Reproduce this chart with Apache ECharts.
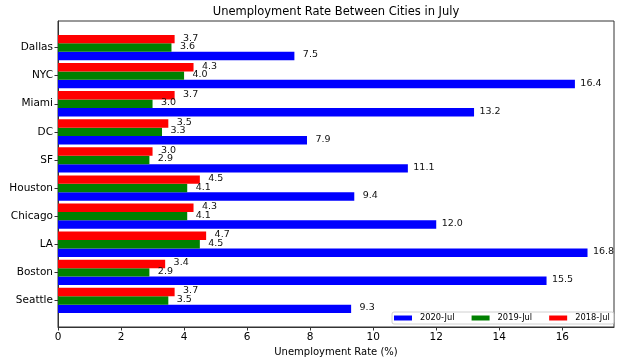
<!DOCTYPE html>
<html>
<head>
<meta charset="utf-8">
<script src="https://cdn.jsdelivr.net/npm/echarts@6/dist/echarts.min.js"></script>
<style>
html,body{margin:0;padding:0;background:#fff;}
#chart{width:624px;height:364px;}
</style>
</head>
<body>
<div id="chart"></div>
<script>
// Data (bottom to top, as in the reference)
const cities = ['Seattle', 'Boston', 'LA', 'Chicago', 'Houston', 'SF', 'DC', 'Miami', 'NYC', 'Dallas'];
const jul2020 = [9.3, 15.5, 16.8, 12.0, 9.4, 11.1, 7.9, 13.2, 16.4, 7.5];
const jul2019 = [3.5, 2.9, 4.5, 4.1, 4.1, 2.9, 3.3, 3.0, 4.0, 3.6];
const jul2018 = [3.7, 3.4, 4.7, 4.3, 4.5, 3.0, 3.5, 3.7, 4.3, 3.7];
const seriesNames = ['2020-Jul', '2019-Jul', '2018-Jul'];
const xTicks = [0, 2, 4, 6, 8, 10, 12, 14, 16];

const FONT = '"DejaVu Sans", sans-serif';
const BAR_H = 0.3;
const colors = ['#0000ff', '#008000', '#ff0000'];
const offsets = [-0.3, 0, 0.3];
const allValues = [jul2020, jul2019, jul2018];

function makeSeries(k) {
  return {
    name: seriesNames[k],
    type: 'custom',
    itemStyle: { color: colors[k] },
    data: allValues[k].map((v, i) => [v, i]),
    encode: { x: 0, y: 1 },
    clip: false,
    renderItem: function (params, api) {
      const v = api.value(0);
      const y = api.value(1) + offsets[k];
      const p0 = api.coord([0, y]);
      const p1 = api.coord([v, y]);
      const h = api.size([0, BAR_H])[1];
      return {
        type: 'group',
        children: [
          {
            type: 'rect',
            shape: { x: p0[0], y: p0[1] - h / 2, width: p1[0] - p0[0], height: h },
            style: { fill: colors[k] }
          },
          {
            type: 'text',
            z2: 10,
            style: {
              x: p1[0] + 16,
              y: p1[1] - 1,
              text: v.toFixed(1),
              align: 'center',
              verticalAlign: 'middle',
              fill: '#111',
              font: '9.5px ' + FONT
            }
          }
        ]
      };
    }
  };
}

const chart = echarts.init(document.getElementById('chart'), null, { renderer: 'canvas' });
chart.setOption({
  animation: false,
  backgroundColor: '#fff',
  title: {
    text: 'Unemployment Rate Between Cities in July',
    left: 336,
    textAlign: 'center',
    top: 6,
    padding: 0,
    textStyle: { fontFamily: FONT, fontSize: 11.5, fontWeight: 'normal', color: '#000' }
  },
  legend: {
    data: seriesNames,
    left: 392,
    top: 312,
    orient: 'horizontal',
    icon: 'rect',
    itemWidth: 18,
    itemHeight: 5,
    itemGap: 17,
    padding: [2, 4, 2, 2],
    backgroundColor: '#fff',
    borderColor: '#d0d0d0',
    borderWidth: 1,
    borderRadius: 2,
    z: 20,
    textStyle: { fontFamily: FONT, fontSize: 8.3, color: '#000', padding: [0, 0, 0, 3] }
  },
  grid: {
    left: 58, right: 10, top: 21, bottom: 37,
    show: true, borderColor: '#333', borderWidth: 1, backgroundColor: 'transparent'
  },
  xAxis: {
    type: 'value',
    min: 0,
    max: 17.64,
    interval: 2,
    name: 'Unemployment Rate (%)',
    nameLocation: 'middle',
    nameGap: 18,
    nameTextStyle: { fontFamily: FONT, fontSize: 10, color: '#000' },
    axisLine: { show: true, onZero: false, lineStyle: { color: '#333' } },
    axisTick: { show: true, length: 3.5, lineStyle: { color: '#333' }, customValues: xTicks },
    axisLabel: { fontFamily: FONT, fontSize: 10.5, color: '#000', margin: 5, customValues: xTicks },
    splitLine: { show: false }
  },
  yAxis: {
    type: 'value',
    min: -0.945,
    max: 9.945,
    axisLine: { show: true, onZero: false, lineStyle: { color: '#333' } },
    axisTick: { show: true, length: 3.5, lineStyle: { color: '#333' }, customValues: cities.map((c, i) => i) },
    axisLabel: {
      fontFamily: FONT, fontSize: 10.5, color: '#000', margin: 5,
      customValues: cities.map((c, i) => i),
      formatter: function (val) { return cities[Math.round(val)] || ''; }
    },
    splitLine: { show: false }
  },
  series: [makeSeries(0), makeSeries(1), makeSeries(2)]
});
</script>
</body>
</html>
